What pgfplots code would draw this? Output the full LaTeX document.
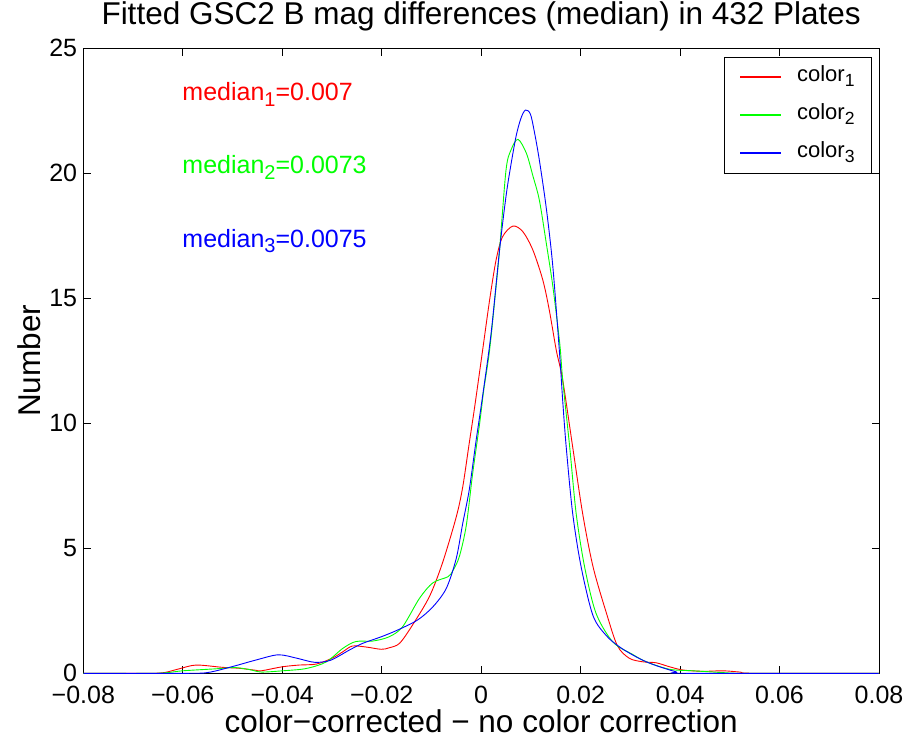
\documentclass[border=0pt]{standalone}
\usepackage{fontspec}
\setmainfont{Liberation Sans}
\usepackage{pgfplots}
\pgfplotsset{compat=1.18}
\newcommand\sub[1]{\raisebox{-0.45ex}{\scalebox{0.8}{#1}}}

\pgfplotstableread{
x y
-0.0800 0
-0.0667 0
-0.0637 0.03
-0.0607 0.18
-0.0573 0.33
-0.0521 0.24
-0.0486 0.20
-0.0453 0.12
-0.0442 0.10
-0.0400 0.26
-0.0366 0.33
-0.0331 0.37
-0.0299 0.61
-0.0279 0.85
-0.0259 1.09
-0.0231 1.05
-0.0201 0.96
-0.0185 1.02
-0.0164 1.20
-0.0138 1.93
-0.0104 3.07
-0.0078 4.40
-0.0050 6.26
-0.0037 7.46
-0.0024 9.20
-0.0013 10.66
0.0003 12.93
0.0017 14.93
0.0030 16.53
0.0043 17.46
0.0064 17.89
0.0084 17.66
0.0104 16.93
0.0124 15.73
0.0137 14.53
0.0151 12.93
0.0164 11.73
0.0184 9.06
0.0204 6.40
0.0225 4.26
0.0252 2.40
0.0274 1.10
0.0298 0.60
0.0325 0.46
0.0352 0.42
0.0379 0.26
0.0406 0.13
0.0446 0.08
0.0486 0.10
0.0520 0.05
0.0551 0
0.0800 0
}\colorone

\pgfplotstableread{
x y
-0.0800 0
-0.0653 0
-0.0600 0.10
-0.0533 0.18
-0.0496 0.23
-0.0466 0.15
-0.0442 0.05
-0.0399 0.10
-0.0352 0.19
-0.0312 0.45
-0.0278 1.00
-0.0252 1.27
-0.0218 1.29
-0.0185 1.46
-0.0158 1.86
-0.0124 3.00
-0.0097 3.62
-0.0067 3.86
-0.0057 4.10
-0.0044 4.66
-0.0030 5.90
-0.0017 8.00
-0.0003 10.00
0.0005 11.30
0.0017 12.93
0.0030 15.46
0.0037 16.93
0.0050 20.13
0.0060 20.93
0.0074 21.36
0.0091 20.80
0.0104 19.90
0.0117 18.93
0.0131 17.20
0.0144 15.50
0.0158 13.20
0.0164 11.73
0.0178 9.06
0.0191 6.40
0.0208 4.26
0.0231 2.40
0.0265 1.25
0.0305 0.75
0.0332 0.46
0.0379 0.16
0.0426 0.10
0.0459 0.06
0.0493 0.02
0.0533 0
0.0800 0
}\colortwo

\pgfplotstableread{
x y
-0.0800 0
-0.0587 0
-0.0547 0.04
-0.0500 0.27
-0.0453 0.53
-0.0408 0.74
-0.0370 0.60
-0.0335 0.44
-0.0303 0.52
-0.0265 0.93
-0.0238 1.20
-0.0201 1.46
-0.0168 1.73
-0.0128 2.13
-0.0097 2.66
-0.0070 3.40
-0.0050 4.60
-0.0037 6.00
-0.0024 7.33
-0.0010 9.33
0.0003 11.10
0.0020 13.60
0.0037 16.93
0.0049 18.93
0.0057 20.00
0.0070 21.46
0.0080 22.20
0.0089 22.53
0.0099 22.37
0.0107 21.66
0.0117 20.53
0.0131 18.60
0.0144 16.30
0.0158 12.70
0.0164 10.90
0.0171 9.06
0.0184 6.40
0.0201 4.26
0.0225 2.30
0.0252 1.50
0.0278 1.06
0.0305 0.73
0.0332 0.46
0.0359 0.26
0.0392 0.06
0.0412 0
0.0800 0
}\colorthree

\begin{document}
\begin{tikzpicture}
\begin{axis}[
  width=795.7pt, height=625pt, scale only axis,
  xmin=-0.08, xmax=0.08, ymin=0, ymax=25,
  scaled x ticks=false, scaled y ticks=false,
  xtick={-0.08,-0.06,-0.04,-0.02,0,0.02,0.04,0.06,0.08},
  xticklabels={−0.08,−0.06,−0.04,−0.02,0,0.02,0.04,0.06,0.08},
  ytick={0,5,10,15,20,25},
  yticklabels={0,5,10,15,20,25},
  tick align=inside, major tick length=7.5pt,
  tick style={black, line width=0.7pt},
  axis line style={black, line width=0.9pt},
  xticklabel style={font=\fontsize{25}{30}\selectfont, inner sep=0pt, yshift=-13pt},
  yticklabel style={font=\fontsize{25}{30}\selectfont, inner sep=0pt, xshift=-6pt},
  title={Fitted GSC2 B mag differences (median) in 432 Plates},
  title style={font=\fontsize{31.5}{36}\selectfont, at={(axis description cs:0.5,1.029)}, anchor=base, inner sep=0pt},
  xlabel={color−corrected − no color correction},
  xlabel style={font=\fontsize{31.5}{36}\selectfont, at={(axis description cs:0.5,-0.095)}, anchor=base, inner sep=0pt},
  ylabel={Number},
  ylabel style={font=\fontsize{31.5}{36}\selectfont, at={(axis description cs:-0.054,0.5)}, anchor=base, inner sep=0pt},
  legend style={at={(axis description cs:1,1)}, anchor=north east, xshift=-7pt, yshift=-8.4pt,
    draw=black, line width=0.9pt, fill=white, font=\fontsize{22}{26}\selectfont,
    inner xsep=15pt, inner ysep=4pt, row sep=6pt,
    /tikz/every odd column/.append style={column sep=13pt},
    nodes={inner sep=2pt, text height=18pt, text depth=10pt}},
  legend cell align=left,
]
\addplot[red, line width=0.9pt, smooth,
  legend image code/.code={\draw[draw=red, line width=1.4pt] (0pt,0pt) -- (41pt,0pt);}]
  table[x=x, y=y] {\colorone};
\addplot[green, line width=0.9pt, smooth,
  legend image code/.code={\draw[draw=green, line width=1.4pt] (0pt,0pt) -- (41pt,0pt);}]
  table[x=x, y=y] {\colortwo};
\addplot[blue, line width=0.9pt, smooth,
  legend image code/.code={\draw[draw=blue, line width=1.4pt] (0pt,0pt) -- (41pt,0pt);}]
  table[x=x, y=y] {\colorthree};
\legend{color\sub{1}, color\sub{2}, color\sub{3}}
\node[anchor=base west, text=red, font=\fontsize{25}{30}\selectfont, inner sep=0pt] at (axis cs:-0.0601,22.9) {median\sub{1}=0.007};
\node[anchor=base west, text=green, font=\fontsize{25}{30}\selectfont, inner sep=0pt] at (axis cs:-0.0601,20.0) {median\sub{2}=0.0073};
\node[anchor=base west, text=blue, font=\fontsize{25}{30}\selectfont, inner sep=0pt] at (axis cs:-0.0601,17.05) {median\sub{3}=0.0075};
\coordinate (SW) at (rel axis cs:0,0);
\coordinate (NE) at (rel axis cs:1,1);
\end{axis}
\pgfresetboundingbox
\path ([shift={(-83.3pt,-68.7pt)}]SW) rectangle ([shift={(27pt,48.3pt)}]NE);
\end{tikzpicture}
\end{document}
